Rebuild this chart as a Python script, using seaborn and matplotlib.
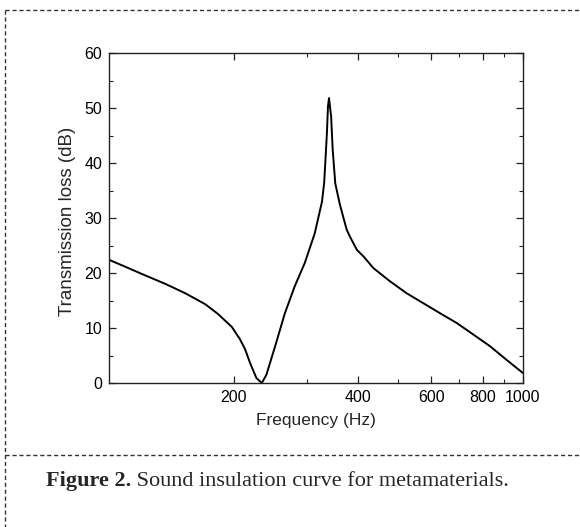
import numpy as np
import pandas as pd
import matplotlib
matplotlib.use("Agg")
import matplotlib.pyplot as plt
from matplotlib.lines import Line2D
from matplotlib.ticker import FixedLocator, FixedFormatter, NullFormatter, MultipleLocator
import seaborn as sns

# ---- data ----
freq = [100, 109, 122, 137, 153, 171, 183, 198, 207, 213, 219, 227, 234, 240, 252,
        266, 281, 297, 314, 327, 331, 336, 338, 340, 344, 347, 352, 361, 375,
        382, 397, 412, 435, 477, 524, 630, 692, 759, 832, 913, 1000]
tl = [22.4, 21.2, 19.6, 18.0, 16.3, 14.3, 12.6, 10.2, 8.0, 6.2, 3.7, 0.9, 0.0, 1.5, 6.7,
      12.7, 17.6, 21.8, 27.2, 33.0, 36.5, 45.4, 50.3, 51.8, 48.4, 42.4, 36.3, 32.5, 27.9,
      26.6, 24.2, 23.0, 20.9, 18.5, 16.3, 12.7, 10.9, 8.8, 6.7, 4.2, 1.8]
x_major = [200, 400, 600, 800, 1000]
x_major_labels = ["200", "400", "600", "800", "1000"]
x_minor = [300, 500, 700, 900]
y_ticks = [0, 10, 20, 30, 40, 50, 60]

xlabel = "Frequency (Hz)"
ylabel = "Transmission loss (dB)"
caption_bold = "Figure 2."
caption_rest = " Sound insulation curve for metamaterials."

df = pd.DataFrame({"freq": freq, "tl": tl})

sns.set_style("ticks")
plt.rcParams["font.family"] = ["Liberation Sans", "DejaVu Sans"]

fig = plt.figure(figsize=(5.8, 5.27), dpi=100)
ax = fig.add_axes([109 / 580, 1 - 383 / 527, (523 - 109) / 580, (383 - 53) / 527])

sns.lineplot(data=df, x="freq", y="tl", ax=ax, color="black", linewidth=1.4,
             estimator=None, sort=False)

ax.set_xscale("log")
ax.set_xlim(100, 1000)
ax.set_ylim(0, 60)
ax.xaxis.set_major_locator(FixedLocator(x_major))
ax.xaxis.set_major_formatter(FixedFormatter(x_major_labels))
ax.xaxis.set_minor_locator(FixedLocator(x_minor))
ax.xaxis.set_minor_formatter(NullFormatter())
ax.yaxis.set_major_locator(FixedLocator(y_ticks))
ax.yaxis.set_minor_locator(MultipleLocator(5))

for s in ax.spines.values():
    s.set_visible(True)
    s.set_linewidth(1.0)
    s.set_color("#222222")

ax.tick_params(which="both", direction="in", top=True, right=True,
               colors="#222222", labelcolor="black")
ax.tick_params(which="major", length=5, width=0.9, labelsize=11.5, pad=5)
ax.tick_params(which="minor", length=3, width=0.8)

ax.set_xlabel(xlabel, fontsize=12.5)
ax.set_ylabel(ylabel, fontsize=13.5)
ax.xaxis.set_label_coords(0.5, -0.091)
ax.yaxis.set_label_coords(-0.08, 0.49)

# dashed frame lines
kw = dict(transform=fig.transFigure, color="#333333", linewidth=1.0,
          linestyle=(0, (3, 2)))
fig.add_artist(Line2D([5 / 580, 1.0], [1 - 10 / 527, 1 - 10 / 527], **kw))
fig.add_artist(Line2D([5 / 580, 5 / 580], [1 - 10 / 527, 0.0], **kw))
fig.add_artist(Line2D([5 / 580, 1.0], [1 - 455 / 527, 1 - 455 / 527], **kw))

# caption
t1 = fig.text(46 / 580, 1 - 481 / 527, caption_bold, fontsize=16,
              fontweight="bold", family="Liberation Serif", va="center", ha="left")
fig.canvas.draw()
bb = t1.get_window_extent()
fig.text(bb.x1 / fig.bbox.width, 1 - 481 / 527, caption_rest, fontsize=16,
         family="Liberation Serif", va="center", ha="left")

fig.savefig("out.png", dpi=100)
